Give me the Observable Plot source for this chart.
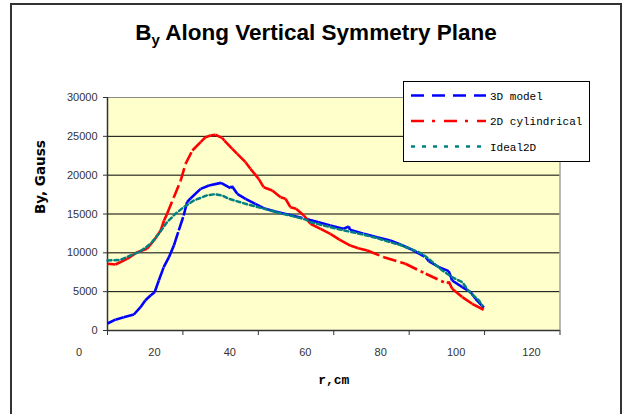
<!DOCTYPE html>
<html><head><meta charset="utf-8">
<script src="https://cdn.jsdelivr.net/npm/d3@7"></script>
<script src="https://cdn.jsdelivr.net/npm/@observablehq/plot@0.6"></script>
<style>
html,body{margin:0;padding:0;background:#fff;}
#wrap{position:relative;width:624px;height:414px;overflow:hidden;font-family:"Liberation Sans",Arial,sans-serif;}
#border{position:absolute;left:10px;top:3px;width:612px;height:440px;border:2px solid #333;box-sizing:border-box;}
#chart{position:absolute;left:0;top:0;}
#title{position:absolute;left:0;width:632px;top:20px;text-align:center;font-weight:bold;font-size:22.5px;color:#000;line-height:26px;}
#title sub{font-size:15px;vertical-align:-5px;line-height:0;}
#legend{position:absolute;left:403px;top:81px;width:187px;height:81px;border:1px solid #000;background:#fff;box-sizing:border-box;}
#legend svg{display:block;}
</style></head>
<body>
<div id="wrap">
  <div id="border"></div>
  <div id="chart"></div>
  <div id="title">B<sub>y</sub> Along Vertical Symmetry Plane</div>
  <div id="legend"></div>
</div>
<script>
// ---- data ----
const seriesNames = ["3D model", "2D cylindrical", "Ideal2D"];
const seriesColors = ["#0000FF", "#FF0000", "#008080"];

const modelX = [0, 2.1, 4.3, 7, 8.75, 10, 11.4, 12.5, 13.6, 14.9, 16.3, 17.6, 18.9, 20.2, 21.1, 22, 24.7, 26.9, 30.1, 32.6, 33.0, 34.4, 36.6, 39.2, 41.4, 44.5, 48.1, 52.5, 56, 59.1, 62.5, 64, 64.3, 68, 71.5, 75, 77.5, 80.8, 84.4, 85.2, 87.9, 90.5, 91.4, 94.1, 96.3, 97.6, 99.8];
const modelY = [900, 1400, 1700, 2060, 3000, 3860, 4500, 4930, 6440, 8150, 9440, 10940, 12880, 14800, 16520, 17000, 18240, 18670, 19010, 18330, 18600, 17600, 16950, 16310, 15750, 15320, 14900, 14380, 13950, 13520, 13090, 13390, 12960, 12450, 12010, 11600, 11100, 10390, 9440, 8920, 8150, 7640, 6440, 5580, 4930, 4080, 2950];

const cylX = [0, 2.1, 5.2, 7.9, 10.5, 12.3, 14.1, 15, 15.8, 17.6, 19.4, 20.7, 22.5, 24.7, 26, 27.3, 28.6, 30.4, 31, 33.1, 34.4, 36.6, 37.9, 40.1, 41.4, 43.7, 45.9, 47.2, 48.5, 50, 52.1, 53.8, 56.5, 59.1, 61.5, 64.4, 66.5, 68.9, 73.3, 77.7, 79, 84.4, 90.1, 90.5, 91.4, 94.1, 96.7, 99.8];
const cylY = [8590, 8500, 9230, 10080, 10520, 11590, 12880, 14160, 15020, 17160, 19310, 21460, 23180, 24250, 24890, 25110, 25200, 24800, 24460, 23390, 22750, 21670, 20820, 19530, 18450, 18030, 17160, 16960, 15880, 15670, 14810, 13740, 13090, 12450, 11700, 10940, 10600, 10300, 9440, 8800, 8590, 7300, 6010, 6300, 5370, 4290, 3440, 2660];

const idealX = [0, 3.4, 6.1, 8.75, 11.4, 13.6, 15.8, 18, 20.2, 22.9, 26.4, 28.5, 30.4, 32.2, 36.6, 41, 45.4, 48.5, 52.5, 53.8, 59.1, 62.7, 66.2, 70.6, 75, 78.1, 82.6, 84.4, 88.8, 91.4, 94.1, 95.8, 98.5, 99.4];
const idealY = [9010, 9100, 9660, 10210, 11160, 12450, 13950, 15020, 15880, 16740, 17400, 17550, 17380, 16960, 16310, 15750, 15150, 14800, 14290, 13950, 13300, 12880, 12530, 12010, 11370, 10940, 10080, 9530, 7730, 6860, 6220, 5060, 3860, 3220];

const xTicks = [0, 20, 40, 60, 80, 100, 120];
const yTicks = [0, 5000, 10000, 15000, 20000, 25000, 30000];
const titleY = "By, Gauss";
const titleX = "r,cm";

// ---- build ----
const pts = (xs, ys) => xs.map((x, i) => ({x, y: ys[i]}));
const segs = (xs, ys) => d3.pairs(pts(xs, ys));
const segOpts = (color, dash, w) => ({
  x1: d => d[0].x, y1: d => d[0].y, x2: d => d[1].x, y2: d => d[1].y,
  stroke: color, strokeWidth: w, strokeDasharray: dash, strokeLinecap: "butt"
});

const chart = Plot.plot({
  width: 624, height: 414,
  marginLeft: 107, marginRight: 64.5, marginTop: 97, marginBottom: 84,
  style: {background: "transparent", fontFamily: "'Liberation Sans', Arial, sans-serif", fontSize: "11px", color: "#333"},
  x: {domain: [0, 120]},
  y: {domain: [0, 30000]},
  marks: [
    Plot.frame({fill: "#FFFFCC", stroke: null}),
    Plot.gridY({ticks: yTicks, stroke: "#000", strokeOpacity: 1}),
    Plot.ruleY([30000], {stroke: "#8a8a8a", strokeWidth: 1.2}),
    Plot.ruleX([120], {stroke: "#8a8a8a", strokeWidth: 1.2}),
    Plot.axisY({ticks: yTicks, tickFormat: d3.format("d"), tickSize: 4, tickPadding: 6, label: null, stroke: "#333"}),
    Plot.axisX({ticks: xTicks, tickFormat: () => "", tickSize: 5, label: null, stroke: "#333"}),
    Plot.ruleX([0], {stroke: "#333", strokeWidth: 1.5}),
    Plot.ruleY([0], {stroke: "#333", strokeWidth: 1.5}),
    Plot.text(xTicks, {x: d => d, text: d => String(d), frameAnchor: "bottom", dy: 25, dx: -28.5, fill: "#333", fontSize: 11}),
    Plot.text([titleY], {frameAnchor: "left", dx: -67, rotate: -90, fontWeight: "bold", fontSize: 13.5, fill: "#000", fontFamily: "'DejaVu Sans', sans-serif", letterSpacing: "1.2px"}),
    Plot.text([titleX], {frameAnchor: "bottom", dy: 53, fontWeight: "bold", fontSize: 13, fill: "#000", fontFamily: "'Liberation Mono', monospace", letterSpacing: "2px"}),
    Plot.link(segs(modelX, modelY), segOpts(seriesColors[0], "14,6", 2.6)),
    Plot.link(segs(cylX, cylY), segOpts(seriesColors[1], "13,4,3,4", 2.6)),
    Plot.line(pts(idealX, idealY), {x: "x", y: "y", stroke: seriesColors[2], strokeWidth: 2.5, strokeDasharray: "4,3"})
  ]
});
document.getElementById("chart").appendChild(chart);

// ---- legend ----
const dashes = ["13,8", "13,8,3,9", "4,7"];
const ns = "http://www.w3.org/2000/svg";
const lsvg = document.createElementNS(ns, "svg");
lsvg.setAttribute("width", 185); lsvg.setAttribute("height", 79);
seriesNames.forEach((name, i) => {
  const y = 13.5 + i * 25.5;
  const ln = document.createElementNS(ns, "line");
  ln.setAttribute("x1", 7); ln.setAttribute("x2", 82);
  ln.setAttribute("y1", y); ln.setAttribute("y2", y);
  ln.setAttribute("stroke", seriesColors[i]);
  ln.setAttribute("stroke-width", 2.5);
  ln.setAttribute("stroke-dasharray", dashes[i]);
  lsvg.appendChild(ln);
  const t = document.createElementNS(ns, "text");
  t.setAttribute("x", 86); t.setAttribute("y", y + 4);
  t.setAttribute("font-family", "'Liberation Mono', monospace");
  t.setAttribute("font-size", 11);
  t.setAttribute("fill", "#000");
  t.textContent = name;
  lsvg.appendChild(t);
});
document.getElementById("legend").appendChild(lsvg);
</script>
</body></html>
